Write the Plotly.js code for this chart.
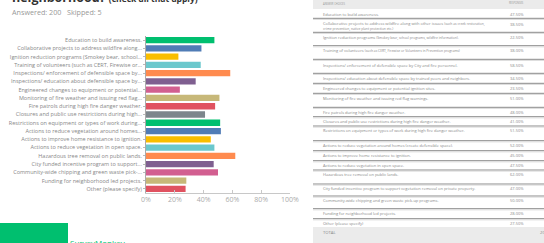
<!DOCTYPE html>
<html><head><meta charset="utf-8">
<script src="https://cdn.plot.ly/plotly-3.0.1.min.js"></script>
<style>html,body{margin:0;padding:0;background:#fff;}#chart{width:544px;height:243px;}</style>
</head><body><div id="chart"></div>
<script>
const categories = [
  "Education to build awareness.",
  "Collaborative projects to address wildfire along...",
  "Ignition reduction programs (Smokey bear, school...",
  "Training of volunteers (such as CERT, Firewise or...",
  "Inspections/ enforcement of defensible space by...",
  "Inspections/ education about defensible space by...",
  "Engineered changes to equipment or potential...",
  "Monitoring of fire weather and issuing red flag...",
  "Fire patrols during high fire danger weather.",
  "Closures and public use restrictions during high...",
  "Restrictions on equipment or types of work during...",
  "Actions to reduce vegetation around homes...",
  "Actions to improve home resistance to ignition.",
  "Actions to reduce vegetation in open space.",
  "Hazardous tree removal on public lands.",
  "City funded incentive program to support...",
  "Community-wide chipping and green waste pick-...",
  "Funding for neighborhood led projects.",
  "Other (please specify)"
];
const responses = [47.5, 38.5, 22.5, 38.0, 58.5, 34.5, 23.5, 51.0, 48.0, 41.0, 51.5, 52.0, 45.0, 47.5, 62.0, 47.0, 50.0, 28.0, 27.5];
const tableLabels = [
  "Education to build awareness.",
  "Collaborative projects to address wildfire along with other issues <span style='font-size:3.3px'>(such as creek restoration,</span><br><span style='font-size:3.3px'>crime prevention, native plant protection etc.)</span>",
  "Ignition reduction programs <span style='font-size:3.3px'>(Smokey bear, school programs, wildfire information).</span>",
  "Training of volunteers <span style='font-size:3.3px'>(such as CERT, Firewise or Volunteers in Prevention programs)</span>",
  "Inspections/ enforcement of defensible space by City and fire personnel.",
  "Inspections/ education about defensible space by trained peers and neighbors.",
  "Engineered changes to equipment or potential ignition sites.",
  "Monitoring of fire weather and issuing red flag warnings.",
  "Fire patrols during high fire danger weather.",
  "Closures and public use restrictions during high fire danger weather.",
  "Restrictions on equipment or types of work during high fire danger weather.",
  "Actions to reduce vegetation around homes (create defensible space).",
  "Actions to improve home resistance to ignition.",
  "Actions to reduce vegetation in open space.",
  "Hazardous tree removal on public lands.",
  "City funded incentive program to support vegetation removal on private property.",
  "Community-wide chipping and green waste pick-up programs.",
  "Funding for neighborhood led projects.",
  "Other (please specify)"
];
const xTickVals = [0, 20, 40, 60, 80, 100];
const xTickText = ["0%", "20%", "40%", "60%", "80%", "100%"];
const answered = 200, skipped = 5;
const barColors = ["#00bf6f","#507cb6","#f9be00","#6bc8cd","#ff8b4f","#7f5f90","#d25f90","#c7b879","#e05260","#7d868c"];

// layout geometry (pixels)
const L = 146, R = 290, T = 36, B = 193;
const fx = p => (p - L) / (R - L);
const fy = p => (B - p) / (B - T);
const rowTextY = [14.7, 24, 37, 50.7, 65.3, 78.3, 88.3, 98.3, 112.3, 121.3, 130.3, 145.7, 155.3, 165.3, 174.3, 188.7, 200.7, 213.3, 223.3];
const rowLineY = [18.3, 32.3, 45.7, 59.3, 73.3, 83.3, 93.3, 107.3, 116.7, 126, 140.7, 150.7, 160.7, 170, 184, 196, 208.7, 218.7];

const colors = categories.map((c, i) => barColors[i % barColors.length]);
const trace = {
  type: "bar", orientation: "h",
  x: responses, y: categories,
  marker: {color: colors, line: {width: 0}},
  hoverinfo: "none"
};

const annotations = [];
const shapes = [];
const txt = (x, y, text, size, color, anchor, extra) => annotations.push(Object.assign({
  xref: "paper", yref: "paper", x: fx(x), y: fy(y), text: text, showarrow: false,
  xanchor: anchor || "left", yanchor: "middle",
  font: {family: "Open Sans, sans-serif", size: size, color: color}
}, extra || {}));

txt(10, -2.5, "<b>neighborhood?</b> <b><span style='font-size:8.5px'>(check all that apply)</span></b>", 12.5, "#333");
txt(10, 11.8, "Answered: " + answered + "&nbsp;&nbsp;&nbsp;Skipped: " + skipped, 7.2, "#999");

// table header and total bands
shapes.push({type: "rect", xref: "paper", yref: "paper", x0: fx(313), x1: fx(560), y0: fy(0), y1: fy(9), fillcolor: "#ebebeb", line: {width: 0}, layer: "below"});
shapes.push({type: "rect", xref: "paper", yref: "paper", x0: fx(313), x1: fx(560), y0: fy(227), y1: fy(250), fillcolor: "#ebebeb", line: {width: 0}, layer: "below"});
txt(321, 4, "ANSWER CHOICES", 2.6, "#999");
txt(526, 3, "RESPONSES", 2.6, "#999", "right");
rowLineY.forEach(y => {
  shapes.push({type: "line", xref: "paper", yref: "paper", x0: fx(313), x1: fx(560), y0: fy(y), y1: fy(y), line: {color: "#8a8a8a", width: 1}});
  shapes.push({type: "line", xref: "paper", yref: "paper", x0: fx(313), x1: fx(560), y0: fy(y + 1.2), y1: fy(y + 1.2), line: {color: "#d6d6d6", width: 0.8}});
});
tableLabels.forEach((t, i) => {
  const multi = t.indexOf("<br>") >= 0;
  txt(321, multi ? rowTextY[i] + 2.5 : rowTextY[i], t, 4, "#888", "left", multi ? {align: "left"} : {});
  txt(526, rowTextY[i], responses[i].toFixed(2) + "%", 4, "#888", "right");
});
txt(321, 232, "TOTAL", 4.2, "#888");
txt(538, 232, String(answered), 4.2, "#888");

// SurveyMonkey footer
shapes.push({type: "rect", xref: "paper", yref: "paper", x0: fx(0), x1: fx(68), y0: fy(223), y1: fy(250), fillcolor: "#00bf6f", line: {width: 0}});
txt(68, 242.5, "SurveyMonkey", 8, "#00bf6f");

const layout = {
  width: 544, height: 243,
  margin: {l: L, r: 544 - R, t: T, b: 243 - B, pad: 0},
  paper_bgcolor: "#fff", plot_bgcolor: "#fff",
  showlegend: false, bargap: 0.24,
  font: {family: "Open Sans, sans-serif"},
  xaxis: {
    range: [0, 100], tickvals: xTickVals, ticktext: xTickText,
    showgrid: false, zeroline: false, showline: true, linecolor: "#c8c8c8", linewidth: 1,
    ticks: "inside", ticklen: 3, tickcolor: "#c8c8c8",
    tickfont: {size: 7, color: "#aaa"}, fixedrange: true
  },
  yaxis: {
    autorange: "reversed", showgrid: false, zeroline: false,
    showline: true, linecolor: "#aaa", linewidth: 1,
    ticks: "outside", ticklen: 2, tickcolor: "#bbb",
    tickfont: {size: 5.5, color: "#888"}, fixedrange: true
  },
  annotations: annotations, shapes: shapes
};
Plotly.newPlot("chart", [trace], layout, {staticPlot: true, displayModeBar: false});
</script></body></html>
